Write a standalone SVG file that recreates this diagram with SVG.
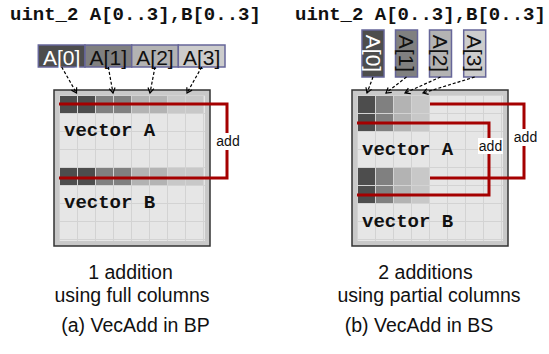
<svg xmlns="http://www.w3.org/2000/svg" width="549" height="354" viewBox="0 0 549 354">
<style>
.title{font-family:"Liberation Mono","Courier New",monospace;font-weight:bold;font-size:19px;fill:#111}
.vec{font-family:"Liberation Mono","Courier New",monospace;font-weight:bold;font-size:19px;fill:#111}
.lbl{font-family:"Liberation Sans",Arial,sans-serif;font-size:19.5px;fill:#111;text-anchor:middle}
.box{stroke:#666699;stroke-width:1.5}
.bt{font-family:"Liberation Sans",Arial,sans-serif;font-size:21px;text-anchor:middle}
.add{font-family:"Liberation Sans",Arial,sans-serif;font-size:14px;fill:#111;text-anchor:middle}
.frame{fill:#c9c9c9;stroke:#333;stroke-width:1.5}
.c0{fill:#4d4d4d}.c1{fill:#808080}.c2{fill:#b3b3b3}.c3{fill:#c8c8c8}
.dash{fill:none;stroke:#000;stroke-width:1.2;stroke-dasharray:3 2;marker-end:url(#ah)}
.red{fill:none;stroke:#a50000;stroke-width:3}
</style>
<defs>
<pattern id="cells" x="60" y="96" width="18" height="18" patternUnits="userSpaceOnUse">
<rect width="18" height="18" fill="#d3d3d3"/>
<rect width="17" height="17" fill="#e6e6e6"/>
</pattern>
<marker id="ah" markerWidth="8" markerHeight="8" refX="6" refY="4" orient="auto" markerUnits="userSpaceOnUse">
<path d="M1,1 L6,4 L1,7" fill="none" stroke="#000" stroke-width="1.2"/>
</marker>
</defs>
<rect width="549" height="354" fill="#fff"/>

<g id="title-a"><text class="title" x="10" y="20">uint_2 A[0..3],B[0..3]</text></g>
<g id="title-b"><text class="title" x="295" y="20">uint_2 A[0..3],B[0..3]</text></g>

<g id="a-elements">
<g id="a-A0"><rect class="box c0" x="38.3" y="45" width="46.7" height="22"/><text class="bt" x="61.7" y="64.5" fill="#fff">A[0]</text></g>
<g id="a-A1"><rect class="box c1" x="85" y="45" width="46.7" height="22"/><text class="bt" x="108.3" y="64.5" fill="#111">A[1]</text></g>
<g id="a-A2"><rect class="box c2" x="131.7" y="45" width="46.7" height="22"/><text class="bt" x="155" y="64.5" fill="#111">A[2]</text></g>
<g id="a-A3"><rect class="box" fill="#cccccc" x="178.3" y="45" width="46.7" height="22"/><text class="bt" x="201.7" y="64.5" fill="#111">A[3]</text></g>
</g>

<g id="b-elements">
<g id="b-A0"><rect class="box c0" x="362" y="30" width="22" height="47"/><text class="bt" transform="translate(365.5,53.5) rotate(90)" fill="#fff">A[0]</text></g>
<g id="b-A1"><rect class="box c1" x="395.5" y="30" width="22" height="47"/><text class="bt" transform="translate(399,53.5) rotate(90)" fill="#111">A[1]</text></g>
<g id="b-A2"><rect class="box c2" x="429.5" y="30" width="22" height="47"/><text class="bt" transform="translate(433,53.5) rotate(90)" fill="#111">A[2]</text></g>
<g id="b-A3"><rect class="box" fill="#cccccc" x="463.7" y="30" width="22" height="47"/><text class="bt" transform="translate(467.2,53.5) rotate(90)" fill="#111">A[3]</text></g>
</g>

<g id="grid-a">
<rect class="frame" x="54" y="90" width="156" height="156"/>
<rect x="59" y="95" width="146" height="146" fill="url(#cells)"/>
<rect class="c0" x="60" y="96" width="17" height="17"/><rect class="c0" x="78" y="96" width="17" height="17"/>
<rect class="c1" x="96" y="96" width="17" height="17"/><rect class="c1" x="114" y="96" width="17" height="17"/>
<rect class="c2" x="132" y="96" width="17" height="17"/><rect class="c2" x="150" y="96" width="17" height="17"/>
<rect class="c3" x="168" y="96" width="17" height="17"/><rect class="c3" x="186" y="96" width="17" height="17"/>
<rect class="c0" x="60" y="168" width="17" height="17"/><rect class="c0" x="78" y="168" width="17" height="17"/>
<rect class="c1" x="96" y="168" width="17" height="17"/><rect class="c1" x="114" y="168" width="17" height="17"/>
<rect class="c2" x="132" y="168" width="17" height="17"/><rect class="c2" x="150" y="168" width="17" height="17"/>
<rect class="c3" x="168" y="168" width="17" height="17"/><rect class="c3" x="186" y="168" width="17" height="17"/>
<text class="vec" x="64" y="136">vector A</text>
<text class="vec" x="64" y="208">vector B</text>
</g>

<g id="grid-b" transform="translate(298,0)">
<rect class="frame" x="54" y="90" width="156" height="156"/>
<rect x="59" y="95" width="146" height="146" fill="url(#cells)"/>
<rect class="c0" x="60" y="96" width="17" height="17"/><rect class="c1" x="78" y="96" width="17" height="17"/>
<rect class="c2" x="96" y="96" width="17" height="17"/><rect class="c3" x="114" y="96" width="17" height="17"/>
<rect class="c0" x="60" y="114" width="17" height="17"/><rect class="c1" x="78" y="114" width="17" height="17"/>
<rect class="c2" x="96" y="114" width="17" height="17"/><rect class="c3" x="114" y="114" width="17" height="17"/>
<rect class="c0" x="60" y="168" width="17" height="17"/><rect class="c1" x="78" y="168" width="17" height="17"/>
<rect class="c2" x="96" y="168" width="17" height="17"/><rect class="c3" x="114" y="168" width="17" height="17"/>
<rect class="c0" x="60" y="186" width="17" height="17"/><rect class="c1" x="78" y="186" width="17" height="17"/>
<rect class="c2" x="96" y="186" width="17" height="17"/><rect class="c3" x="114" y="186" width="17" height="17"/>
<text class="vec" x="64" y="155">vector A</text>
<text class="vec" x="64" y="227">vector B</text>
</g>

<g id="connectors">
<path class="dash" d="M61.7,67 L76.5,93"/>
<path class="dash" d="M108.3,67 L113,93"/>
<path class="dash" d="M155,67 L150,93"/>
<path class="dash" d="M201.7,67 L187,93"/>
<path class="dash" d="M373,77 L367,93"/>
<path class="dash" d="M406.5,77 L386,93"/>
<path class="dash" d="M440.5,77 L405,93"/>
<path class="dash" d="M474.7,77 L423,93"/>
<path class="red" d="M59,104 H227 V178 H59"/>
<path class="red" d="M430,104 H524 V178 H430"/>
<path class="red" d="M357,123 H489 V195 H357"/>
<g id="add-a"><rect x="216" y="133" width="24" height="17" fill="#fff"/><text class="add" x="228" y="146">add</text></g>
<g id="add-b-outer"><rect x="513" y="129" width="25" height="17" fill="#fff"/><text class="add" x="525.5" y="142">add</text></g>
<g id="add-b-inner"><rect x="478" y="138" width="25" height="16" fill="#fff"/><text class="add" x="490.5" y="151">add</text></g>
</g>

<g id="caption-a">
<text class="lbl" x="130.5" y="279">1 addition</text>
<text class="lbl" x="132" y="302">using full columns</text>
<text class="lbl" x="135.5" y="332">(a) VecAdd in BP</text>
</g>
<g id="caption-b">
<text class="lbl" x="425.5" y="279">2 additions</text>
<text class="lbl" x="429" y="302">using partial columns</text>
<text class="lbl" x="419" y="332">(b) VecAdd in BS</text>
</g>
</svg>
